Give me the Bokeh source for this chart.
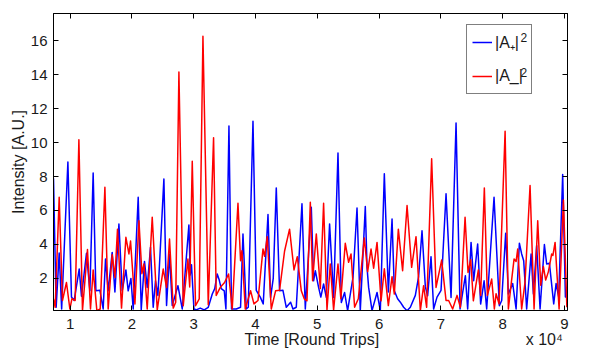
from bokeh.plotting import figure
from bokeh.models import Range1d, FixedTicker, LinearAxis, Legend, LegendItem, Label
from bokeh.embed import file_html
from bokeh.resources import INLINE

# |A+|^2 (blue)
t_plus = [7300, 7730, 8220, 8620, 9630, 10210, 10650, 11460, 11830, 12640, 13190, 13720, 14160, 14810,
          15340, 15720, 16150, 16800, 17240, 17890, 18420, 19020, 19390, 19830, 20200, 21010, 21500,
          22030, 22470, 23000, 23440, 23810, 24200, 25170, 25600, 26080, 26520, 27440, 28140, 29220,
          29430, 29640, 30030, 30400, 31050, 31700, 32350, 33000, 33400, 33800, 34130, 34450, 34940,
          35210, 35700, 36120, 36880, 37580, 37970, 38500, 38830, 39590, 40120, 40770, 41250, 42020,
          42440, 42870, 43360, 43890, 44440, 44980, 45680, 46060, 46600, 47520, 48060, 49030, 49400,
          49680, 50210, 50570, 51020, 51460, 51990, 52640, 53350, 53890, 54420, 54910, 55780, 56430,
          56960, 57770, 58050, 58310, 58860, 59670, 60200, 60850, 61500, 62100, 62470, 63000, 63440,
          63980, 64530, 65060, 65870, 66400, 66950, 67490, 67860, 68410, 68830, 69380, 70030, 70840,
          71650, 72460, 73110, 73970, 74340, 74890, 75310, 75960, 76440, 77000, 77420, 78610, 79470,
          79850, 80490, 80930, 81630, 82180, 82710, 83080, 83410, 83890, 84610, 84980, 85510, 86060,
          86760, 87130, 87570, 88270, 88650, 89080, 89720, 90160, 90400]
a_plus = [7.9, 0.3, 3.5, 0.2, 8.85, 0.9, 0.7, 2.55, 0.95, 3.48, 1.27, 8.2, 1.27, 1.3,
          0.2, 3.14, 1.27, 3.53, 1.2, 5.2, 1.27, 2.5, 1.27, 2.0, 0.2, 6.78, 0.15,
          3.0, 1.47, 3.83, 0.3, 1.86, 1.0, 7.86, 0.4, 3.44, 0.4, 1.57, 0.2, 5.15,
          2.2, 2.8, 0.2, 0.15, 0.25, 0.15, 0.3, 1.08, 1.4, 2.26, 1.9, 1.4, 1.27,
          0.2, 10.97, 0.2, 0.2, 0.3, 4.62, 0.2, 0.3, 11.26, 1.3, 0.9, 0.5, 5.76,
          0.88, 2.0, 7.33, 1.27, 1.3, 0.3, 0.6, 0.2, 0.3, 6.39, 0.2, 6.19, 1.86,
          2.45, 1.47, 0.9, 1.67, 0.88, 5.21, 0.88, 9.38, 0.58, 1.17, 0.1, 2.06, 6.15,
          0.1, 6.23, 2.65, 1.47, 0.1, 1.17, 0.1, 8.16, 1.2, 5.5, 1.27, 0.8, 0.6,
          0.3, 0.1, 0.3, 1.0, 2.1, 4.81, 1.5, 0.98, 3.28, 0.2, 0.9, 1.3, 6.98,
          0.88, 11.15, 0.2, 2.16, 0.2, 4.12, 1.86, 4.03, 0.49, 1.86, 0.2, 6.78, 0.39,
          0.7, 4.66, 1.08, 1.7, 0.2, 4.07, 3.44, 3.04, 0.2, 3.44, 1.08, 3.93, 0.2,
          3.99, 2.85, 2.9, 0.5, 1.7, 0.9, 8.12, 0.9, 0.9]

# |A-|^2 (red)
t_minus = [7300, 7570, 8220, 8750, 9400, 9950, 10280, 10810, 11410, 11990, 12800, 13290, 13720, 14320,
           14860, 15620, 16150, 16800, 17240, 17660, 18310, 19020, 19510, 19770, 20480, 21130, 21610,
           21940, 22470, 23280, 24090, 25060, 25600, 26080, 26680, 27080, 27600, 28300, 29060, 29350,
           29760, 30290, 30890, 31490, 32350, 33210, 33640, 34340, 34990, 35640, 36230, 37160, 37580,
           37810, 38340, 39200, 39750, 40400, 41210, 41470, 41900, 42550, 43250, 43890, 44700, 45510,
           46230, 46760, 47410, 47890, 48330, 48870, 49240, 49840, 50490, 51020, 51570, 52100, 52640,
           53350, 53810, 54530, 55070, 55460, 56040, 56640, 57610, 58150, 58700, 59120, 59670, 60320,
           60850, 61500, 62100, 62470, 63120, 63810, 64530, 65270, 65980, 66680, 67210, 67700, 68510,
           69220, 70130, 70840, 71260, 71910, 72620, 73160, 73920, 74400, 74830, 75260, 76070, 76440,
           77040, 77530, 78230, 78660, 78940, 79420, 80400, 80930, 81420, 81850, 82180, 82440, 83080,
           83630, 84440, 85090, 85680, 86160, 86600, 86970, 87410, 87940, 88140, 88490, 89140, 89840,
           90400]
a_minus = [0.8, 0.3, 6.78, 0.7, 1.76, 0.2, 0.8, 0.7, 10.16, 0.1, 3.7, 0.2, 2.5, 0.1,
           0.2, 7.37, 0.2, 3.4, 2.06, 4.9, 0.25, 4.42, 3.44, 4.2, 0.5, 5.4, 2.28,
           2.85, 0.2, 5.6, 0.15, 2.55, 1.47, 4.32, 0.25, 0.6, 14.15, 0.39, 3.14, 1.5,
           8.9, 0.39, 0.8, 16.26, 0.45, 10.28, 1.0, 1.5, 1.76, 2.26, 0.2, 6.43, 3.04,
           3.63, 0.2, 1.27, 0.5, 0.7, 3.73, 3.3, 4.46, 0.2, 1.27, 1.3, 3.6, 4.9,
           2.5, 3.28, 1.27, 0.8, 0.68, 6.48, 1.86, 4.62, 1.4, 6.43, 0.15, 2.85, 0.15,
           2.85, 0.8, 4.07, 2.95, 3.44, 0.3, 0.8, 4.38, 2.4, 3.73, 2.6, 4.12, 0.68,
           2.57, 0.4, 2.1, 1.08, 4.9, 2.45, 6.29, 2.65, 4.46, 0.1, 1.57, 0.3, 9.04,
           1.47, 3.08, 0.7, 0.7, 0.2, 1.0, 0.3, 5.6, 2.35, 3.1, 0.68, 2.5, 1.0,
           7.33, 1.0, 1.96, 0.2, 1.1, 0.5, 10.67, 0.2, 1.8, 3.14, 3.0, 3.73, 0.2,
           1.8, 7.47, 0.2, 5.4, 1.6, 2.7, 1.9, 2.4, 3.44, 3.35, 4.12, 0.2, 6.62,
           0.3]

x_ticks = [10000, 20000, 30000, 40000, 50000, 60000, 70000, 80000, 90000]
x_tick_labels = ["1", "2", "3", "4", "5", "6", "7", "8", "9"]
y_ticks = [2, 4, 6, 8, 10, 12, 14, 16]

NB = "\u00a0"
# x axis title, with the "x 10^4" multiplier carried at its right end
x_title = NB * 42 + "Time [Round Trips]" + NB * 33 + "x 10\u2074"

FONT = "Liberation Sans"
TXT = "#1a1a1a"

p = figure(width=589, height=351, output_backend="svg", toolbar_location=None,
           x_range=Range1d(7300, 90500), y_range=Range1d(0.11, 17.6),
           min_border_left=53, min_border_right=22, min_border_top=13, min_border_bottom=41)
p.xgrid.visible = False
p.ygrid.visible = False
p.outline_line_color = "black"
p.outline_line_width = 1
p.background_fill_color = "white"
p.border_fill_color = "white"


def style_axis(ax, labels=True):
    ax.major_tick_in = 5
    ax.major_tick_out = 0
    ax.minor_tick_line_color = None
    ax.axis_line_color = "black"
    ax.major_tick_line_color = "black"
    ax.major_label_text_font = FONT
    ax.major_label_text_font_size = "15px"
    ax.major_label_text_color = TXT
    ax.axis_label_text_font = FONT
    ax.axis_label_text_font_size = "16px"
    ax.axis_label_text_font_style = "normal"
    ax.axis_label_text_color = TXT
    if not labels:
        # mirrored tick marks only: labels are not painted
        ax.major_label_text_font_size = "1px"
        ax.major_label_text_color = None
        ax.major_label_standoff = 0


p.xaxis.ticker = FixedTicker(ticks=x_ticks)
p.xaxis.major_label_overrides = {t: s for t, s in zip(x_ticks, x_tick_labels)}
p.yaxis.ticker = FixedTicker(ticks=y_ticks)
p.xaxis.axis_label = x_title
p.yaxis.axis_label = "Intensity [A.U.]"
style_axis(p.xaxis[0])
style_axis(p.yaxis[0])
p.xaxis.major_label_standoff = 8
p.xaxis.axis_label_standoff = -1
p.xaxis.axis_label_text_line_height = 1.0
p.yaxis.major_label_standoff = 6
p.yaxis.axis_label_standoff = 1

top_ax = LinearAxis(ticker=FixedTicker(ticks=x_ticks))
style_axis(top_ax, labels=False)
p.add_layout(top_ax, "above")
right_ax = LinearAxis(ticker=FixedTicker(ticks=y_ticks))
style_axis(right_ax, labels=False)
p.add_layout(right_ax, "right")

rb = p.line(t_plus, a_plus, line_color="#0000ff", line_width=1.5, line_join="round")
rr = p.line(t_minus, a_minus, line_color="#ff0000", line_width=1.5, line_join="round")

legend = Legend(items=[LegendItem(label="|A₊|", renderers=[rb]),
                       LegendItem(label="|A_|", renderers=[rr])],
                location=(413, 216))
legend.label_text_font = FONT
legend.label_text_font_size = "16px"
legend.label_text_color = TXT
legend.glyph_width = 20
legend.glyph_height = 24
legend.label_height = 24
legend.label_width = 31
legend.label_standoff = 3
legend.padding = 5
legend.spacing = 10
legend.margin = 0
legend.border_line_color = "black"
legend.border_line_width = 1
legend.background_fill_alpha = 0
p.add_layout(legend)

sup_style = dict(x_units="screen", y_units="screen", text_font=FONT, text_color=TXT,
                 text_baseline="alphabetic")
# superscript "2" of the legend entries
p.add_layout(Label(x=467, y=273, text="2", text_font_size="12px", **sup_style))
p.add_layout(Label(x=467, y=238, text="2", text_font_size="12px", **sup_style))

open("out.html", "w").write(file_html(p, INLINE))
